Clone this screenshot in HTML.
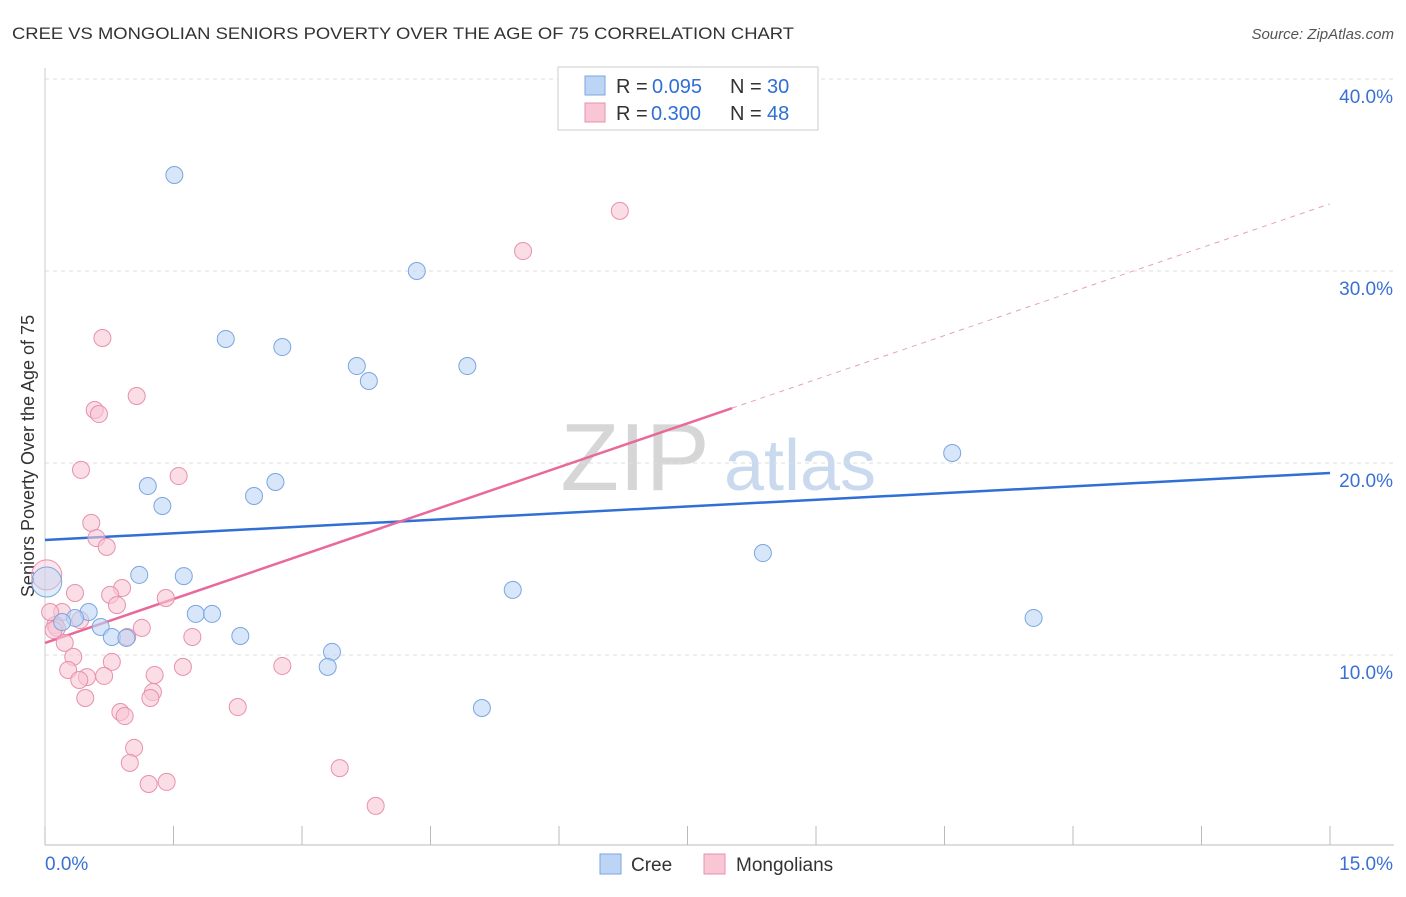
<!DOCTYPE html>
<html><head><meta charset="utf-8"><style>
body{margin:0;background:#fff;font-family:"Liberation Sans",sans-serif;}
svg text{font-family:"Liberation Sans",sans-serif;}
</style></head><body>
<svg id="chart" width="1406" height="892">
<text x="12" y="39" font-size="17" fill="#333" textLength="782" lengthAdjust="spacingAndGlyphs">CREE VS MONGOLIAN SENIORS POVERTY OVER THE AGE OF 75 CORRELATION CHART</text>
<text x="1394" y="39" font-size="15" fill="#555" font-style="italic" text-anchor="end">Source: ZipAtlas.com</text>
<text x="0" y="0" transform="translate(34,456) rotate(-90)" font-size="18" fill="#333" text-anchor="middle">Seniors Poverty Over the Age of 75</text>
<g><text x="635" y="490" font-size="96" fill="#d6d6d6" font-family="Liberation Serif" text-anchor="middle">ZIP</text><text x="800" y="490" font-size="72" fill="#c9d9ee" text-anchor="middle">atlas</text></g>
<g id="grid"></g><g id="axes"></g><g id="lines"></g><g id="pts"></g>
<g>
<rect x="558" y="67" width="260" height="63" fill="#fff" stroke="#ccc"/>
<rect x="585" y="76" width="20" height="19" fill="#bcd5f5" stroke="#7aa6e0"/>
<rect x="585" y="103" width="20" height="19" fill="#f9c6d6" stroke="#e890ae"/>
<text x="616" y="93" font-size="20" fill="#333">R =</text><text x="652" y="93" font-size="20" fill="#2f6fd6">0.095</text>
<text x="730" y="93" font-size="20" fill="#333">N =</text><text x="767" y="93" font-size="20" fill="#2f6fd6">30</text>
<text x="616" y="120" font-size="20" fill="#333">R =</text><text x="651" y="120" font-size="20" fill="#2f6fd6">0.300</text>
<text x="730" y="120" font-size="20" fill="#333">N =</text><text x="767" y="120" font-size="20" fill="#2f6fd6">48</text>
</g>
<g>
<rect x="600" y="854" width="21" height="20" fill="#bcd5f5" stroke="#7aa6e0"/><text x="631" y="871" font-size="19" fill="#333">Cree</text>
<rect x="704" y="854" width="21" height="20" fill="#f9c6d6" stroke="#e890ae"/><text x="736" y="871" font-size="19" fill="#333">Mongolians</text>
</g>
</svg>
<script>
const yTicks=[10,20,30,40];
const yTickLabels=["10.0%","20.0%","30.0%","40.0%"];
const xTicks=[0,1.5,3,4.5,6,7.5,9,10.5,12,13.5,15];
const creeX=[1.51,4.34,2.11,2.77,3.64,3.78,4.93,10.59,1.20,1.37,2.44,2.69,8.38,1.10,1.62,5.46,11.54,0.51,0.35,0.20,0.65,0.78,0.95,1.76,1.95,2.28,3.35,3.30,5.10,0.02];
const creeY=[35.0,30.0,26.46,26.04,25.05,24.27,25.05,20.52,18.8,17.76,18.28,19.01,15.31,14.17,14.11,13.39,11.93,12.24,11.93,11.72,11.46,10.94,10.89,12.14,12.14,10.99,10.16,9.38,7.24,13.8];
const mongX=[6.71,5.58,0.67,1.07,0.58,0.63,0.42,1.56,0.54,0.60,0.72,0.90,0.76,0.84,1.41,0.35,0.20,0.12,0.14,1.13,1.72,0.96,0.23,0.33,0.78,0.27,1.61,2.77,1.28,0.49,0.69,0.40,1.26,1.23,0.47,2.25,0.88,0.93,1.04,0.99,3.44,1.21,1.42,3.86,0.02,0.06,0.41,0.10];
const mongY=[33.13,31.04,26.51,23.49,22.76,22.55,19.64,19.32,16.88,16.09,15.63,13.49,13.13,12.6,12.97,13.23,12.24,11.56,11.41,11.41,10.94,10.94,10.63,9.9,9.64,9.22,9.38,9.43,8.96,8.85,8.91,8.7,8.07,7.76,7.76,7.29,7.03,6.82,5.16,4.38,4.11,3.28,3.39,2.14,14.17,12.24,11.82,11.3];
const creeTrend=[15.99,19.48];
const mongTrend=[10.63,33.5];
const mongSolidEnd=8.02;
const X=v=>45+v*1285/15, Y=v=>847-v*19.2;
const NS="http://www.w3.org/2000/svg";
function mk(p,t,a){const e=document.createElementNS(NS,t);for(const k in a)e.setAttribute(k,a[k]);document.getElementById(p).appendChild(e);return e;}
yTicks.forEach((t,i)=>{
 const g=mk('grid','line',{x1:45,x2:1394,y1:Y(t),y2:Y(t),stroke:'#ddd','stroke-dasharray':'4,4'});
 
 
 const l=mk('axes','text',{x:1393,y:Y(t)+24,'font-size':19,fill:'#3a70d4','text-anchor':'end'});l.textContent=yTickLabels[i];
 
 
});
const ax=mk('axes','line',{x1:45,x2:1394,y1:845,y2:845,stroke:'#bbb'});


const ay=mk('axes','line',{x1:45,x2:45,y1:68,y2:845,stroke:'#ccc'});


xTicks.forEach(t=>{const e=mk('axes','line',{x1:X(t),x2:X(t),y1:826,y2:845,stroke:'#bbb'});
 
 });
let a=mk('axes','text',{x:45,y:870,'font-size':19,fill:'#3a70d4'});a.textContent='0.0%';


a=mk('axes','text',{x:1393,y:870,'font-size':19,fill:'#3a70d4','text-anchor':'end'});a.textContent='15.0%';


function pts(xs,ys,fill,stroke,name){xs.forEach((x,i)=>{const big=x<0.05;const c=mk('pts','circle',{cx:X(x),cy:Y(ys[i]),r:big?15:8.5,fill:fill,'fill-opacity':big?0.45:0.6,stroke:stroke,'stroke-width':1});
 
 });}
pts(mongX,mongY,'#f9c6d6','#e890ae','mongolian-point');
pts(creeX,creeY,'#bcd5f5','#7aa6e0','cree-point');
let l=mk('lines','line',{x1:X(0),y1:Y(creeTrend[0]),x2:X(15),y2:Y(creeTrend[1]),stroke:'#2f6fd6','stroke-width':2.5});


const my=v=>mongTrend[0]+(mongTrend[1]-mongTrend[0])*v/15;
l=mk('lines','line',{x1:X(0),y1:Y(my(0)),x2:X(mongSolidEnd),y2:Y(my(mongSolidEnd)),stroke:'#e8699a','stroke-width':2.5});


l=mk('lines','line',{x1:X(mongSolidEnd),y1:Y(my(mongSolidEnd)),x2:X(15),y2:Y(my(15)),stroke:'#e8a0ba','stroke-width':1,'stroke-dasharray':'5,5'});


</script>
</body></html>
